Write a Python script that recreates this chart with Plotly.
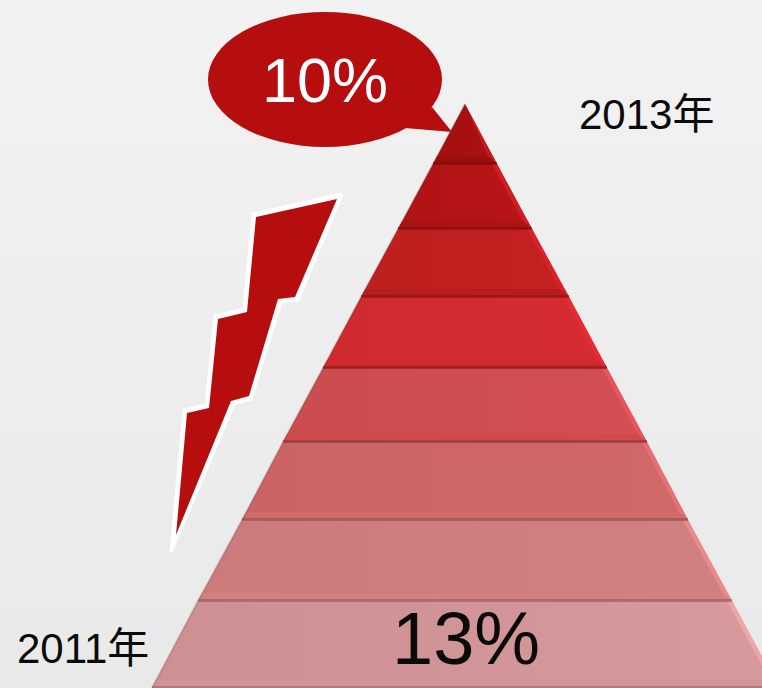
import plotly.graph_objects as go

# ==========================================================
# DATA (pixel space of the slide)
# ==========================================================
BAND_Y = [104, 164, 229, 297, 368, 442, 520, 601, 688]
BAND_LEFT = [465, 433, 398, 361, 323, 283, 242, 198, 152]
BAND_RIGHT = [465, 497, 532, 569, 607, 647, 688, 732, 779]
BAND_COLORS = ["#a30f10", "#b01415", "#bd1f1f", "#ce2b30", "#cb4d50", "#ca6363", "#cb7b7c", "#cd9092"]
BAND_COLORS_R = ["#ab1012", "#b81416", "#c42122", "#d52c31", "#d24f53", "#d06868", "#d08081", "#d69a9c"]
LIP_COLORS = ["#990e0f", "#a91314", "#b81d1e", "#d02a2e", "#d04a4d", "#d2696a", "#d57f81", "#d29597"]
EDGE_COLORS = ["#c41a1f", "#cf1e24", "#dc2228", "#e92a30", "#e8565b", "#e87074", "#ea8a8d", "#eea5a8"]
LINE_COLORS = ["#7d0b0c", "#860e0e", "#8c1415", "#8a1c1f", "#8c3a3c", "#99504f", "#9a5e5f", "#a06a6c"]

BOLT_X = [337, 256, 247, 218, 209, 187, 176, 231, 249, 278, 295]
BOLT_Y = [199, 217, 312, 319, 408, 413, 535, 401, 396, 299, 297]
BOLT_OUT_X = [342, 253, 244, 215, 206, 184, 171, 234, 251, 281, 298]
BOLT_OUT_Y = [194, 214, 309, 316, 405, 410, 552, 404, 399, 302, 300]

BUBBLE_BOX = [208, 12, 442, 147]
TAIL_X = [432, 452, 405]
TAIL_Y = [107, 132, 128]

LABELS = ["10%", "13%", "2013年", "2011年"]
LABEL_X = [325, 466, 646, 83]
LABEL_Y = [80, 638, 114, 648]
LABEL_SIZE = [63, 74, 42, 42]
LABEL_COLOR = ["white", "#0a0a0a", "#0a0a0a", "#0a0a0a"]

RED = "#b60d0e"
FONT = "Liberation Sans, Noto Sans CJK SC, Arial, sans-serif"
LIP_H = 8
EDGE_W = 5

fig = go.Figure()


def poly(xs, ys, color, gradient=None, line=None):
    trace = go.Scatter(x=xs + xs[:1], y=ys + ys[:1], mode="lines", fill="toself",
                       line=line or dict(width=0), hoverinfo="skip", showlegend=False)
    if gradient:
        trace.fillgradient = gradient
    else:
        trace.fillcolor = color
    fig.add_trace(trace)


# background
poly([0, 762, 762, 0], [0, 0, 688, 688], None, gradient=dict(
    type="vertical", colorscale=[[0, "#e9e9e9"], [0.45, "#ededed"], [1, "#f2f2f2"]]))

# pyramid bands, top to bottom
for i in range(len(BAND_COLORS)):
    t, b = BAND_Y[i], BAND_Y[i + 1]
    lt, rt = BAND_LEFT[i], BAND_RIGHT[i]
    lb, rb = BAND_LEFT[i + 1], BAND_RIGHT[i + 1]
    poly([lt, rt, rb, lb], [t, t, b, b], None, gradient=dict(
        type="horizontal", colorscale=[[0, BAND_COLORS[i]], [1, BAND_COLORS_R[i]]]))
    # lighter lip along the bottom of the band
    frac = (b - LIP_H - t) / (b - t)
    lm = lt + (lb - lt) * frac
    rm = rt + (rb - rt) * frac
    poly([lm, rm, rb, lb], [b - LIP_H, b - LIP_H, b, b], LIP_COLORS[i])
    # bright bevel on the right side
    poly([rt, rb, rm - EDGE_W, max(rt - EDGE_W, lt)], [t, b, b - LIP_H, t], EDGE_COLORS[i])
    # soft dark bevel on the left side
    fig.add_trace(go.Scatter(x=[lt, lb], y=[t, b], mode="lines",
                             line=dict(color="rgba(110,30,30,0.2)", width=2),
                             hoverinfo="skip", showlegend=False))

# dark seams at the band boundaries, drawn after the bevels
for i in range(len(BAND_COLORS)):
    fig.add_trace(go.Scatter(x=[BAND_LEFT[i + 1], BAND_RIGHT[i + 1]], y=[BAND_Y[i + 1] - 0.5] * 2, mode="lines",
                             line=dict(color=LINE_COLORS[i], width=3),
                             opacity=0.65, hoverinfo="skip", showlegend=False))

# lightning bolt
poly(BOLT_OUT_X, BOLT_OUT_Y, "white", line=dict(color="white", width=3))
poly(BOLT_X, BOLT_Y, RED)

# speech bubble
fig.add_shape(type="circle", x0=BUBBLE_BOX[0], y0=BUBBLE_BOX[1], x1=BUBBLE_BOX[2], y1=BUBBLE_BOX[3],
              fillcolor=RED, line=dict(width=0), layer="above")
poly(TAIL_X, TAIL_Y, RED)

# labels
for i in range(len(LABELS)):
    fig.add_annotation(x=LABEL_X[i], y=LABEL_Y[i], text=LABELS[i], showarrow=False,
                       font=dict(family=FONT, size=LABEL_SIZE[i], color=LABEL_COLOR[i]))

fig.update_layout(
    width=762, height=688,
    margin=dict(l=0, r=0, t=0, b=0),
    paper_bgcolor="#eeeeee",
    plot_bgcolor="#eeeeee",
    xaxis=dict(range=[0, 762], visible=False, fixedrange=True),
    yaxis=dict(range=[688, 0], visible=False, fixedrange=True),
)

# page default body margin would push the slide off by 8px
fig.write_html("out.html", config=dict(displayModeBar=False),
               post_script="document.body.style.margin='0';")
